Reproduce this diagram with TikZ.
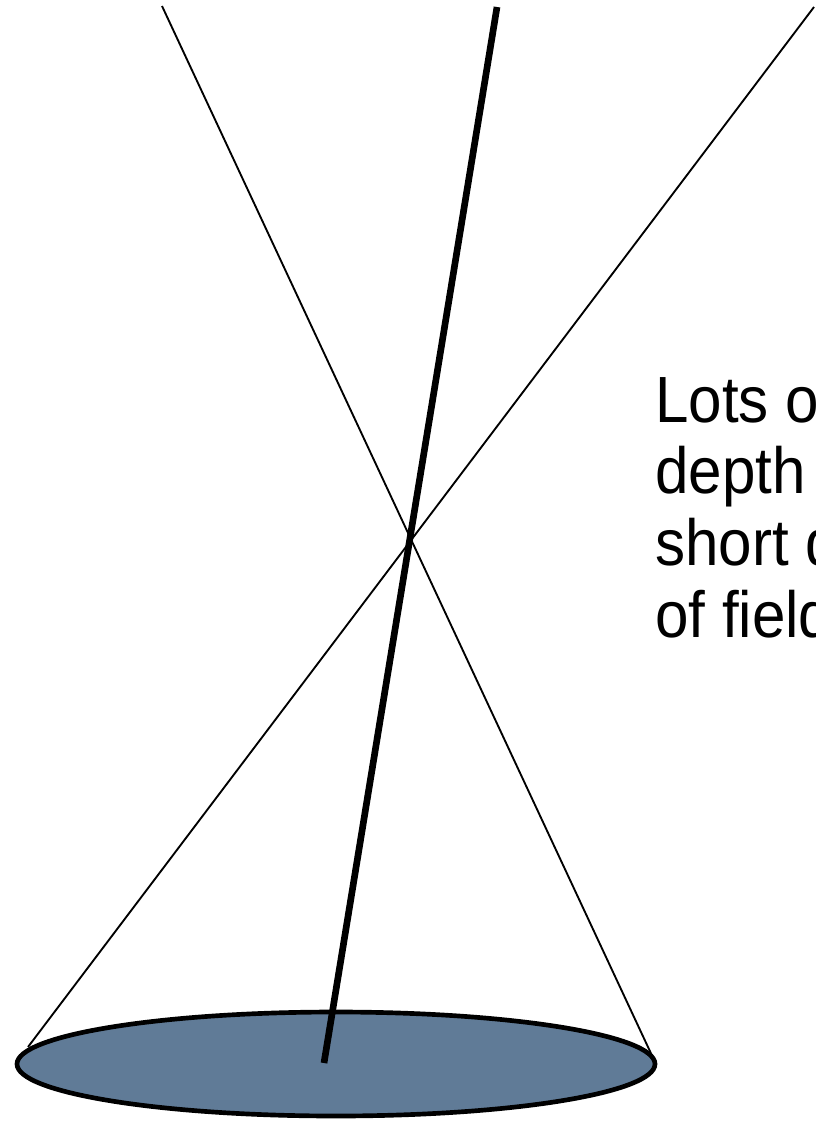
\documentclass[tikz,border=0pt]{standalone}
\usepackage{fontspec}
\setmainfont{Liberation Sans}
\newfontfamily\capfont[FakeStretch=0.92]{Liberation Sans}
\usetikzlibrary{shapes.geometric}
\definecolor{discblue}{RGB}{96,123,151}

\begin{document}
\begin{tikzpicture}[
    x=0.75pt, y=-0.75pt,
    disc/.style={ellipse, draw=black, line width=3.5pt, fill=discblue, minimum width=478.5pt, minimum height=78pt, inner sep=0pt},
    ray/.style={draw=black, line width=1.4pt},
    axisline/.style={draw=black, line width=5pt},
    caption/.style={anchor=base west, inner sep=0pt, font=\capfont\fontsize{49}{53}\selectfont}
]
    \useasboundingbox (0,0) rectangle (816,1121);
    \clip (0,0) rectangle (816,1121);

    % Aperture disc
    \node[disc] (disc) at (336,1064) {};

    % Ray ends
    \coordinate (ray_a_top) at (162,6);
    \coordinate (ray_a_bot) at (655,1062);
    \coordinate (ray_b_top) at (814,7);
    \coordinate (ray_b_bot) at (28,1047);
    \coordinate (axis_top) at (497,7);
    \coordinate (axis_bot) at (324,1063);

    \draw[ray] (ray_a_top) -- (ray_a_bot);
    \draw[ray] (ray_b_top) -- (ray_b_bot);
    \draw[axisline] (axis_top) -- (axis_bot);

    % Caption
    \node[caption] (cap_a) at (655,422) {Lots of};
    \node[caption] (cap_b) at (655,493.5) {depth};
    \node[caption] (cap_c) at (655,565) {short depth};
    \node[caption] (cap_d) at (655,637) {of field};

\end{tikzpicture}
\end{document}
